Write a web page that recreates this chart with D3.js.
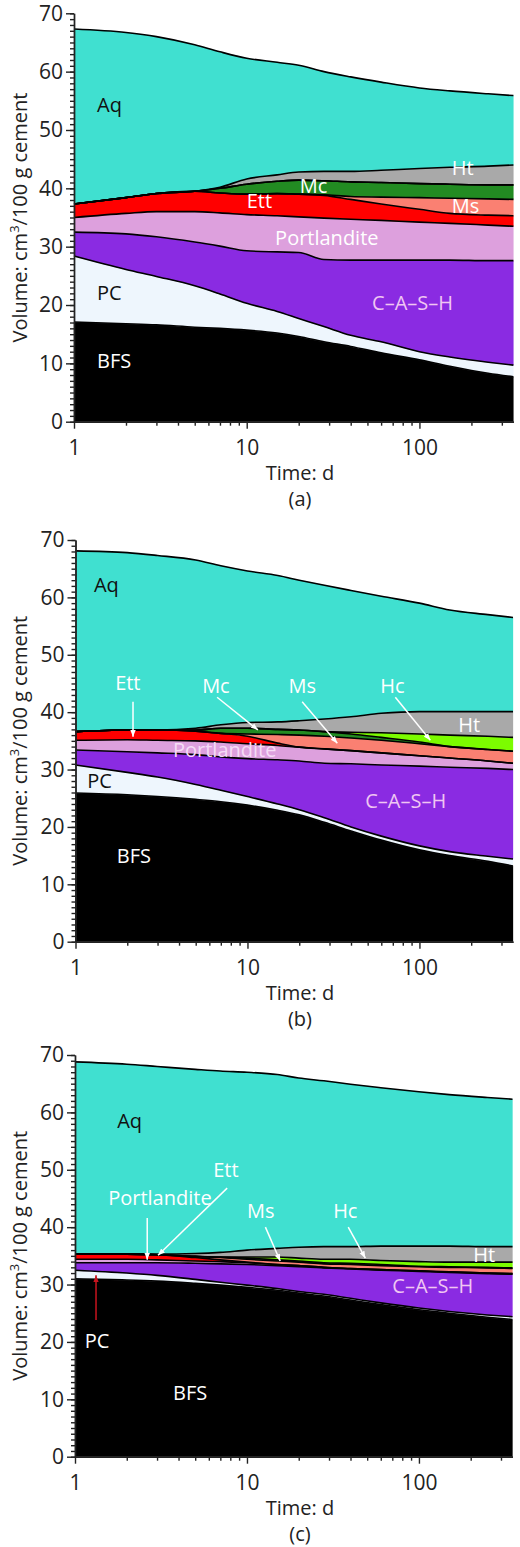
<!DOCTYPE html>
<html><head><meta charset="utf-8">
<script src="https://cdn.jsdelivr.net/npm/d3@7"></script>
<style>
body{margin:0;background:#fff}
svg{display:block}
text{font-family:"Open Sans",sans-serif}
</style>
</head><body>
<svg id="chart" width="520" height="1547"></svg>
<script>
// ---------- data ----------
const times = [1, 2, 3, 5, 7, 10, 15, 20, 28, 40, 60, 100, 150, 250, 350];
const phases = ["BFS", "PC", "CASH", "Portlandite", "Ett", "Ms", "Mc", "Hc", "Ht", "Aq"];
const yTicks = [0, 10, 20, 30, 40, 50, 60, 70];
const xTicks = [1, 10, 100];
const xMinorTicks = [2,3,4,5,6,7,8,9,20,30,40,50,60,70,80,90,200,300];
const panelLetters = ["(a)", "(b)", "(c)"];

// panel (a) phase volumes, cm3/100 g cement
const a_BFS  = [17.1,16.8,16.6,16.2,16.0,15.7,15.2,14.6,13.7,12.9,11.8,10.6,9.5,8.3,7.7];
const a_PC   = [11.3,9.3,8.3,7.1,5.9,4.6,3.7,3.1,2.6,1.9,1.9,1.4,1.6,1.9,2.0];
const a_CASH = [4.1,6.1,6.8,7.5,8.2,9.0,10.2,11.3,11.5,12.9,14.0,15.7,16.6,17.4,17.9];
const a_Port = [2.5,3.5,4.3,5.2,5.7,6.2,6.2,6.1,7.1,7.0,6.8,6.5,6.3,6.1,5.9];
const a_Ett  = [2.3,2.7,3.1,3.5,3.4,3.5,3.8,3.9,3.9,3.4,2.8,2.2,1.7,1.7,1.8];
const a_Ms   = [0,0,0,0,0,0,0,0,0.1,0.5,1.2,2.0,2.6,2.8,2.8];
const a_Mc   = [0,0,0,0,0.8,1.7,2.1,2.4,2.4,2.5,2.5,2.4,2.4,2.4,2.5];
const a_Hc   = [0,0,0,0,0,0,0,0,0,0,0,0,0,0,0];
const a_Ht   = [0,0,0,0,0.2,0.9,1.1,1.4,1.6,1.8,2.1,2.6,2.9,3.2,3.4];
const a_Aq   = [30.0,28.3,26.9,25.1,23.2,20.7,19.3,18.3,17.1,16.2,15.1,13.8,13.1,12.4,11.9];

// panel (b)
const b_BFS  = [25.9,25.6,25.3,24.8,24.4,23.8,22.9,22.1,20.8,19.3,17.7,16.0,15.0,14.0,13.2];
const b_PC   = [4.9,3.9,3.4,2.6,2.0,1.5,1.1,0.9,0.8,0.7,0.7,0.7,0.7,0.9,1.2];
const b_CASH = [2.6,3.6,4.2,5.2,5.8,6.6,7.7,8.5,9.5,11.0,12.4,13.9,14.7,15.3,15.6];
const b_Port = [1.7,2.1,2.2,2.4,2.6,2.6,2.5,2.4,2.5,2.3,2.1,1.8,1.6,1.3,1.1];
const b_Ett  = [1.5,1.7,1.8,1.7,1.5,1.3,0.4,0,0,0,0,0,0,0,0];
const b_Ms   = [0,0,0,0,0,0.4,1.5,2.1,2.2,2.2,2.2,2.1,2.0,2.0,2.1];
const b_Mc   = [0,0,0,0.2,0.9,1.0,0.9,0.9,0.8,0.7,0.5,0.3,0,0,0];
const b_Hc   = [0,0,0,0,0,0,0,0,0,0.3,0.8,1.4,2.0,2.3,2.4];
const b_Ht   = [0,0,0,0.3,0.6,1.0,1.3,1.6,2.2,2.7,3.4,3.9,4.1,4.3,4.5];
const b_Aq   = [31.5,30.9,30.4,29.3,27.7,26.4,25.5,24.5,23.3,22.0,20.4,18.9,17.7,16.9,16.4];

// panel (c)
const c_BFS  = [31.0,30.8,30.6,30.2,29.9,29.5,29.0,28.5,28.0,27.3,26.5,25.6,25.0,24.3,23.9];
const c_PC   = [1.5,1.2,1.0,0.7,0.5,0.4,0.3,0.3,0.3,0.3,0.3,0.3,0.3,0.4,0.5];
const c_CASH = [1.3,1.8,2.2,2.8,3.2,3.6,4.0,4.3,4.6,5.1,5.7,6.4,6.8,7.2,7.4];
const c_Port = [0.6,0.6,0.5,0.4,0.4,0.3,0.2,0.2,0.1,0.1,0.1,0.1,0.1,0.1,0.1];
const c_Ett  = [0.9,0.9,0.9,0.6,0.3,0.1,0,0,0,0,0,0,0,0,0];
const c_Ms   = [0,0,0,0.2,0.4,0.5,0.6,0.6,0.6,0.7,0.7,0.7,0.8,0.9,0.9];
const c_Mc   = [0,0,0,0,0.1,0.2,0.2,0.2,0.2,0.2,0.2,0.1,0.1,0.1,0.1];
const c_Hc   = [0,0,0,0,0,0.2,0.5,0.5,0.6,0.7,0.7,0.8,0.8,0.9,1.0];
const c_Ht   = [0,0,0.1,0.5,0.8,1.2,1.5,1.9,2.2,2.2,2.5,2.7,2.8,2.7,2.7];
const c_Aq   = [33.5,33.1,32.7,32.1,31.6,31.0,30.3,29.5,28.9,28.3,27.6,26.9,26.4,26.0,25.7];

// annotation labels: [text, time, value, kind]
const a_labels = [["Aq",1.36,53.1,"dark"],["PC",1.36,20.9,"dark"],["BFS",1.36,9.2,"light"],
  ["C–A–S–H",53.2,19.2,"pink"],["Portlandite",14.6,30.3,"light"],["Ett",10.0,36.6,"light"],
  ["Mc",20.3,39.2,"light"],["Ht",154,42.3,"light"],["Ms",154,35.8,"light"]];
const b_labels = [["Aq",1.28,60.9,"dark"],["Ett",1.70,43.9,"light"],["Mc",5.45,43.4,"light"],
  ["Ms",17.3,43.4,"light"],["Hc",59.2,43.4,"light"],["Ht",168,36.6,"light"],
  ["Portlandite",3.69,32.2,"pinklight"],["PC",1.17,26.8,"dark"],["C–A–S–H",48.4,23.3,"pink"],
  ["BFS",1.74,13.7,"light"]];
const c_labels = [["Aq",1.76,57.2,"dark"],["Ett",6.36,48.7,"light"],["Portlandite",1.56,43.8,"light"],
  ["Ms",10.0,41.6,"light"],["Hc",31.7,41.6,"light"],["Ht",207,33.9,"light"],
  ["C–A–S–H",70.0,28.5,"pink"],["PC",1.14,18.9,"light"],["BFS",3.72,9.9,"light"]];
// arrows: [t0, v0, t1, v1, kind]
const a_arrows = [];
const b_arrows = [[2.16,41.8,2.16,35.7,"w"],[6.66,42.6,11.5,36.9,"w"],[20.8,41.8,33.3,34.6,"w"],[72.4,42.6,115.7,35.1,"w"]];
const c_arrows = [[7.67,46.8,3.04,35.1,"w"],[2.63,41.6,2.63,34.3,"w"],[12.8,40.0,15.6,34.1,"w"],[38.8,40.0,48.8,34.6,"w"],[1.325,23.8,1.325,31.6,"r"]];

// ---------- styles / layout ----------
const phaseColor = {BFS:"#000000", PC:"#eef6fd", CASH:"#8a2be2", Portlandite:"#dda0dd", Ett:"#ff0000",
  Ms:"#fa8072", Mc:"#228b22", Hc:"#7cfc00", Ht:"#a9a9a9", Aq:"#40e0d0"};
const textColor = {dark:"#111", light:"#ffffff", pink:"#f0c6f2", pinklight:"#f6dcf6"};
const layout = [
  {x0:74, x1:513.4, yTop:13.3, yBot:421.7},
  {x0:75.5, x1:513, yTop:540, yBot:941.7},
  {x0:75, x1:512.5, yTop:1055, yBot:1456.7}
];

function rows(arrs){
  return times.map((t,i)=>{
    const r={t};
    phases.forEach((p,k)=>{ r[p]=arrs[k][i]; });
    return r;
  });
}
const panelData = [
  {rows: rows([a_BFS,a_PC,a_CASH,a_Port,a_Ett,a_Ms,a_Mc,a_Hc,a_Ht,a_Aq]), labels:a_labels, arrows:a_arrows},
  {rows: rows([b_BFS,b_PC,b_CASH,b_Port,b_Ett,b_Ms,b_Mc,b_Hc,b_Ht,b_Aq]), labels:b_labels, arrows:b_arrows},
  {rows: rows([c_BFS,c_PC,c_CASH,c_Port,c_Ett,c_Ms,c_Mc,c_Hc,c_Ht,c_Aq]), labels:c_labels, arrows:c_arrows}
];

const svg = d3.select("#chart");
const defs = svg.append("defs");
[["w","#ffffff"],["r","#c8141e"]].forEach(([k,col])=>{
  defs.append("marker").attr("id","arr-"+k).attr("viewBox","0 0 10 10")
    .attr("refX",10).attr("refY",5).attr("markerWidth",7).attr("markerHeight",7)
    .attr("markerUnits","userSpaceOnUse").attr("orient","auto")
    .append("path").attr("d","M0,1 L10,5 L0,9 Z").attr("fill",col);
});

const stack = d3.stack().keys(phases);

panelData.forEach((pd, idx)=>{
  const L = layout[idx];
  const x = d3.scaleLog().domain([1,350]).range([L.x0, L.x1]);
  const y = d3.scaleLinear().domain([0,70]).range([L.yBot, L.yTop]);
  const g = svg.append("g");
  const series = stack(pd.rows);

  const area = d3.area().x(d=>x(d.data.t)).y0(d=>y(d[0])).y1(d=>y(d[1])).curve(d3.curveMonotoneX);
  const line = d3.line().x(d=>x(d.data.t)).y(d=>y(d[1])).curve(d3.curveMonotoneX);

  g.selectAll("path.area").data(series).join("path").attr("class","area")
    .attr("d",area).attr("fill",s=>phaseColor[s.key]).attr("stroke",s=>phaseColor[s.key]).attr("stroke-width",0.3);
  g.selectAll("path.top").data(series).join("path").attr("class","top")
    .attr("d",line).attr("fill","none").attr("stroke","#000").attr("stroke-width",1.6);

  // axes
  const yAxis = g.append("g").attr("transform",`translate(${L.x0},0)`)
    .call(d3.axisLeft(y).tickValues(yTicks).tickSize(8).tickPadding(3).tickSizeOuter(0));
  const yMinor = g.append("g").attr("transform",`translate(${L.x0},0)`)
    .call(d3.axisLeft(y).tickValues(d3.range(0,71,1)).tickSize(4).tickFormat("").tickSizeOuter(0));
  const xAxis = g.append("g").attr("transform",`translate(0,${L.yBot})`)
    .call(d3.axisBottom(x).tickValues(xTicks).tickFormat(d3.format("d")).tickSize(7).tickPadding(11).tickSizeOuter(0));
  const xMinor = g.append("g").attr("transform",`translate(0,${L.yBot})`)
    .call(d3.axisBottom(x).tickValues(xMinorTicks).tickSize(4).tickFormat("").tickSizeOuter(0));
  [yAxis,yMinor,xAxis,xMinor].forEach(a=>{
    a.selectAll("path,line").attr("stroke","#222").attr("stroke-width",1.4);
    a.selectAll("text").attr("font-size",21).attr("fill","#222").attr("font-family","'Open Sans',sans-serif");
  });

  // axis titles
  g.append("text").attr("x",300).attr("y",L.yBot+58).attr("text-anchor","middle")
    .attr("font-size",20).attr("fill","#222").text("Time: d");
  g.append("text").attr("x",300).attr("y",L.yBot+84).attr("text-anchor","middle")
    .attr("font-size",20).attr("fill","#222").text(panelLetters[idx]);
  const yt = g.append("text").attr("transform",`translate(27,${(L.yTop+L.yBot)/2}) rotate(-90)`)
    .attr("text-anchor","middle").attr("font-size",20).attr("fill","#222");
  yt.append("tspan").text("Volume: cm");
  yt.append("tspan").attr("dy",-8).attr("font-size",13).text("3");
  yt.append("tspan").attr("dy",8).text("/100 g cement");

  // arrows
  pd.arrows.forEach(([t0,v0,t1,v1,k])=>{
    g.append("line").attr("x1",x(t0)).attr("y1",y(v0)).attr("x2",x(t1)).attr("y2",y(v1))
      .attr("stroke",k==="r"?"#c8141e":"#ffffff").attr("stroke-width",1.5)
      .attr("marker-end",`url(#arr-${k})`);
  });
  // labels
  pd.labels.forEach(([txt,t,v,kind])=>{
    g.append("text").attr("x",x(t)).attr("y",y(v)).attr("font-size",20)
      .attr("fill",textColor[kind]).text(txt);
  });
});
</script>
</body></html>
